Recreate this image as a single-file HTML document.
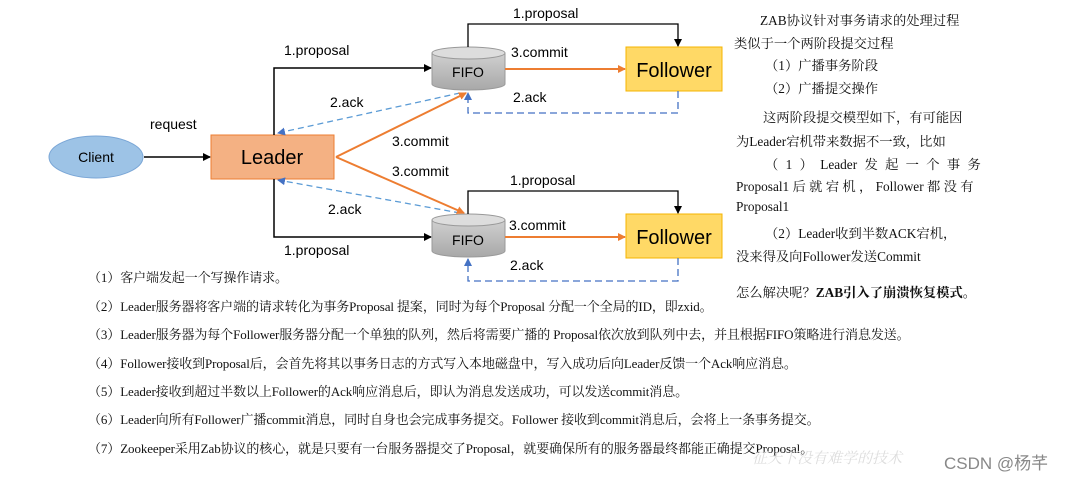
<!DOCTYPE html>
<html><head><meta charset="utf-8"><style>
body{margin:0;width:1070px;height:478px;background:#fff;position:relative;overflow:hidden;font-family:"Liberation Serif","Noto Serif CJK SC",serif}
.t{position:absolute;font-size:13.3px;color:#111;white-space:nowrap}
.b{position:absolute;left:88px;font-size:13px;color:#111;white-space:nowrap;letter-spacing:-0.1px}
</style></head><body>
<svg width="1070" height="478" style="position:absolute;left:0;top:0" font-family="Liberation Sans, sans-serif">
<defs>
<marker id="k" markerWidth="8" markerHeight="8" refX="7" refY="4" orient="auto" markerUnits="userSpaceOnUse"><path d="M0,0L8,4L0,8z" fill="#000"/></marker>
<marker id="o" markerWidth="8" markerHeight="8" refX="7" refY="4" orient="auto" markerUnits="userSpaceOnUse"><path d="M0,0L8,4L0,8z" fill="#ed7d31"/></marker>
<marker id="u" markerWidth="8" markerHeight="8" refX="7" refY="4" orient="auto" markerUnits="userSpaceOnUse"><path d="M0,0L8,4L0,8z" fill="#4472c4"/></marker>
<linearGradient id="g" x1="0" x2="0" y1="0" y2="1"><stop offset="0" stop-color="#d0d0d0"/><stop offset="1" stop-color="#a8a8a8"/></linearGradient>
</defs>
<ellipse cx="96" cy="157" rx="47" ry="21" fill="#9dc3e6" stroke="#7aa6d6"/>
<text x="96" y="162" font-size="14" text-anchor="middle">Client</text>
<line x1="144" y1="157" x2="210" y2="157" stroke="#000" stroke-width="1.5" marker-end="url(#k)"/>
<text x="150" y="129" font-size="14">request</text>
<rect x="211" y="135" width="123" height="44" fill="#f4b183" stroke="#ed7d31"/>
<text x="272" y="164" font-size="20" text-anchor="middle">Leader</text>
<path d="M274 135V68H431" fill="none" stroke="#000" stroke-width="1.5" marker-end="url(#k)"/>
<path d="M274 179V237H431" fill="none" stroke="#000" stroke-width="1.5" marker-end="url(#k)"/>
<text x="284" y="55" font-size="14">1.proposal</text>
<text x="284" y="255" font-size="14">1.proposal</text>
<path d="M432 53V84A36.5 6 0 0 0 505 84V53" fill="url(#g)" stroke="#999"/>
<ellipse cx="468.5" cy="53" rx="36.5" ry="6" fill="#ddd" stroke="#999"/>
<text x="468" y="77" font-size="14" text-anchor="middle">FIFO</text>
<path d="M432 220V251A36.5 6 0 0 0 505 251V220" fill="url(#g)" stroke="#999"/>
<ellipse cx="468.5" cy="220" rx="36.5" ry="6" fill="#ddd" stroke="#999"/>
<text x="468" y="245" font-size="14" text-anchor="middle">FIFO</text>
<rect x="626" y="47" width="96" height="44" fill="#ffd966" stroke="#f4b400"/>
<text x="674" y="77" font-size="20" text-anchor="middle">Follower</text>
<rect x="626" y="214" width="96" height="44" fill="#ffd966" stroke="#f4b400"/>
<text x="674" y="244" font-size="20" text-anchor="middle">Follower</text>
<path d="M468 47V24H678V46" fill="none" stroke="#000" stroke-width="1.3" marker-end="url(#k)"/>
<path d="M468 214V191H678V213" fill="none" stroke="#000" stroke-width="1.3" marker-end="url(#k)"/>
<text x="513" y="18" font-size="14">1.proposal</text>
<text x="510" y="185" font-size="14">1.proposal</text>
<line x1="505" y1="69" x2="625" y2="69" stroke="#ed7d31" stroke-width="2" marker-end="url(#o)"/>
<line x1="505" y1="237" x2="625" y2="237" stroke="#ed7d31" stroke-width="2" marker-end="url(#o)"/>
<text x="511" y="57" font-size="14">3.commit</text>
<text x="509" y="230" font-size="14">3.commit</text>
<path d="M678 91V113H468V93" fill="none" stroke="#4472c4" stroke-width="1.3" stroke-dasharray="7 4" marker-end="url(#u)"/>
<path d="M678 258V281H468V259" fill="none" stroke="#4472c4" stroke-width="1.3" stroke-dasharray="7 4" marker-end="url(#u)"/>
<text x="513" y="102" font-size="14">2.ack</text>
<text x="510" y="270" font-size="14">2.ack</text>
<line x1="460" y1="93" x2="278" y2="133" stroke="#5b9bd5" stroke-width="1.3" stroke-dasharray="6 4" marker-end="url(#u)"/>
<line x1="460" y1="213" x2="278" y2="180" stroke="#5b9bd5" stroke-width="1.3" stroke-dasharray="6 4" marker-end="url(#u)"/>
<text x="330" y="107" font-size="14">2.ack</text>
<text x="328" y="214" font-size="14">2.ack</text>
<line x1="336" y1="157" x2="466" y2="93" stroke="#ed7d31" stroke-width="2" marker-end="url(#o)"/>
<line x1="336" y1="157" x2="464" y2="213" stroke="#ed7d31" stroke-width="2" marker-end="url(#o)"/>
<text x="392" y="146" font-size="14">3.commit</text>
<text x="392" y="176" font-size="14">3.commit</text>
</svg>
<div class="t" style="left:760px;top:10px">ZAB协议针对事务请求的处理过程</div>
<div class="t" style="left:734px;top:33px">类似于一个两阶段提交过程</div>
<div class="t" style="left:765px;top:55px">（1）广播事务阶段</div>
<div class="t" style="left:765px;top:78px">（2）广播提交操作</div>
<div class="t" style="left:763px;top:107px">这两阶段提交模型如下，有可能因</div>
<div class="t" style="left:736px;top:131px">为Leader宕机带来数据不一致，比如</div>
<div class="t" style="left:765px;top:154px;word-spacing:4px">（ 1 ） Leader 发 起 一 个 事 务</div>
<div class="t" style="left:736px;top:176px">Proposal1 后 就 宕 机 ， Follower 都 没 有</div>
<div class="t" style="left:736px;top:199px">Proposal1</div>
<div class="t" style="left:765px;top:223px">（2）Leader收到半数ACK宕机，</div>
<div class="t" style="left:736px;top:246px">没来得及向Follower发送Commit</div>
<div class="t" style="left:736px;top:282px">怎么解决呢？<b>ZAB引入了崩溃恢复模式。</b></div>
<div class="b" style="top:267px">（1）客户端发起一个写操作请求。</div>
<div class="b" style="top:296px">（2）Leader服务器将客户端的请求转化为事务Proposal 提案，同时为每个Proposal 分配一个全局的ID，即zxid。</div>
<div class="b" style="top:324px">（3）Leader服务器为每个Follower服务器分配一个单独的队列，然后将需要广播的 Proposal依次放到队列中去，并且根据FIFO策略进行消息发送。</div>
<div class="b" style="top:353px">（4）Follower接收到Proposal后，会首先将其以事务日志的方式写入本地磁盘中，写入成功后向Leader反馈一个Ack响应消息。</div>
<div class="b" style="top:381px">（5）Leader接收到超过半数以上Follower的Ack响应消息后，即认为消息发送成功，可以发送commit消息。</div>
<div class="b" style="top:409px">（6）Leader向所有Follower广播commit消息，同时自身也会完成事务提交。Follower 接收到commit消息后，会将上一条事务提交。</div>
<div class="b" style="top:438px">（7）Zookeeper采用Zab协议的核心，就是只要有一台服务器提交了Proposal，就要确保所有的服务器最终都能正确提交Proposal。</div>
<div style="position:absolute;left:752px;top:447px;font-size:15px;color:#ddd;font-style:italic">征天下没有难学的技术</div>
<div style="position:absolute;left:944px;top:449px;font-size:17px;color:#888;font-family:'Liberation Sans','Noto Sans CJK SC',sans-serif">CSDN @杨芊</div>
</body></html>
